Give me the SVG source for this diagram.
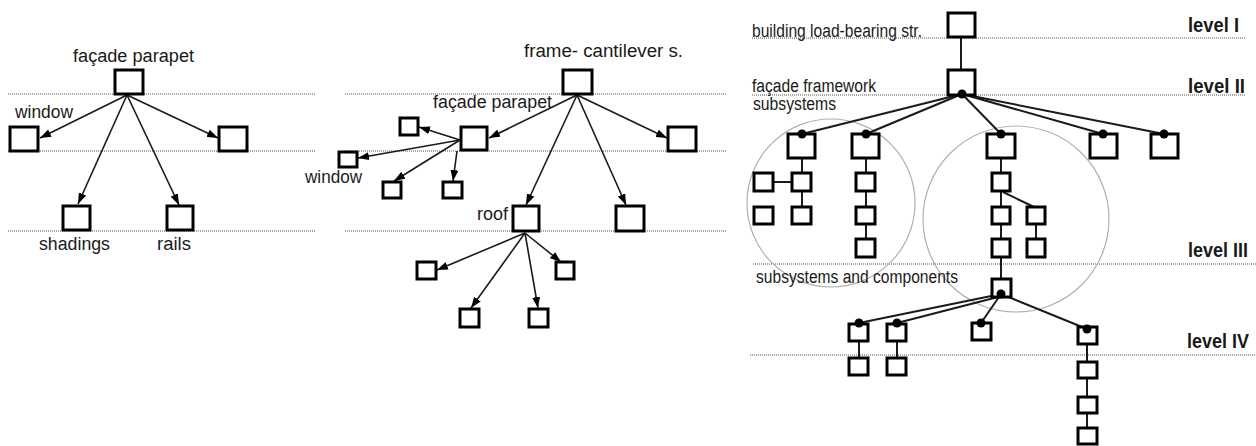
<svg xmlns="http://www.w3.org/2000/svg" width="1256" height="446" viewBox="0 0 1256 446">
<defs>
<style>
.bg{fill:#fff}
.bx{fill:#fff;stroke:#000;stroke-width:3}
.lv{stroke:#8a8a8a;stroke-width:1.6;stroke-dasharray:1 1;fill:none}
.ar{stroke:#1a1a1a;stroke-width:1.6;fill:none;marker-end:url(#ah)}
.ln{stroke:#1a1a1a;stroke-width:2;fill:none}
.dot{fill:#000}
.cr{fill:none;stroke:#b0b0b0;stroke-width:1.2}
.t{font-family:"Liberation Sans",Arial,sans-serif;font-size:18px;fill:#1a1a1a}
.tr{font-family:"Liberation Sans",Arial,sans-serif;font-size:18px;fill:#1a1a1a}
.lvl{font-family:"Liberation Sans",Arial,sans-serif;font-size:20px;font-weight:bold;fill:#1a1a1a}
</style>
<marker id="ah" markerUnits="userSpaceOnUse" markerWidth="11" markerHeight="8" refX="11" refY="4" orient="auto">
<path d="M0,0 L11,4 L0,8 z" fill="#000"/>
</marker>
</defs>
<rect class="bg" x="0" y="0" width="1256" height="446"/>

<g id="level-lines">
<line class="lv" x1="8" y1="94" x2="315" y2="94"/>
<line class="lv" x1="8" y1="151" x2="315" y2="151"/>
<line class="lv" x1="8" y1="231" x2="315" y2="231"/>
<line class="lv" x1="345" y1="94" x2="727" y2="94"/>
<line class="lv" x1="345" y1="151" x2="727" y2="151"/>
<line class="lv" x1="345" y1="231" x2="727" y2="231"/>
<line class="lv" x1="752" y1="38" x2="1245" y2="38"/>
<line class="lv" x1="752" y1="95" x2="1245" y2="95"/>
<line class="lv" x1="753" y1="264" x2="1256" y2="264"/>
<line class="lv" x1="750" y1="355" x2="1256" y2="355"/>
</g>

<g id="circles">
<circle class="cr" cx="831" cy="203" r="84"/>
<circle class="cr" cx="1016" cy="219" r="93"/>
</g>

<g id="connectors">
<!-- left panel -->
<line class="ar" x1="127" y1="95" x2="40" y2="138"/>
<line class="ar" x1="127" y1="95" x2="218" y2="138"/>
<line class="ar" x1="127" y1="95" x2="78" y2="204"/>
<line class="ar" x1="127" y1="95" x2="179" y2="205"/>
<!-- middle panel -->
<line class="ar" x1="577" y1="95" x2="489" y2="138"/>
<line class="ar" x1="577" y1="95" x2="667" y2="138"/>
<line class="ar" x1="577" y1="95" x2="526" y2="205"/>
<line class="ar" x1="577" y1="95" x2="626" y2="205"/>
<line class="ar" x1="460" y1="140" x2="419" y2="127"/>
<line class="ar" x1="460" y1="140" x2="358" y2="158"/>
<line class="ar" x1="460" y1="140" x2="394" y2="181"/>
<line class="ar" x1="457" y1="151" x2="453" y2="181"/>
<line class="ar" x1="525" y1="233" x2="437" y2="270"/>
<line class="ar" x1="525" y1="233" x2="471" y2="308"/>
<line class="ar" x1="525" y1="233" x2="538" y2="308"/>
<line class="ar" x1="525" y1="233" x2="561" y2="262"/>
<!-- right panel -->
<line class="ln" x1="961" y1="37" x2="961" y2="70"/>
<line class="ln" x1="962" y1="94" x2="802" y2="134"/>
<line class="ln" x1="962" y1="94" x2="866" y2="134"/>
<line class="ln" x1="962" y1="94" x2="1001" y2="134"/>
<line class="ln" x1="962" y1="94" x2="1103" y2="134"/>
<line class="ln" x1="962" y1="94" x2="1164" y2="134"/>
<line class="ln" x1="802" y1="158" x2="802" y2="207"/>
<line class="ln" x1="773" y1="182" x2="792" y2="182"/>
<line class="ln" x1="866" y1="158" x2="866" y2="239"/>
<line class="ln" x1="1001" y1="158" x2="1001" y2="279"/>
<line class="ln" x1="1003" y1="192" x2="1034" y2="207"/>
<line class="ln" x1="1036" y1="224" x2="1036" y2="239"/>
<line class="ln" x1="1001" y1="294" x2="859" y2="323"/>
<line class="ln" x1="998" y1="297" x2="897" y2="323"/>
<line class="ln" x1="1001" y1="294" x2="981" y2="323"/>
<line class="ln" x1="1001" y1="294" x2="1087" y2="329"/>
<line class="ln" x1="859" y1="341" x2="859" y2="358"/>
<line class="ln" x1="897" y1="341" x2="897" y2="358"/>
<line class="ln" x1="1087" y1="344" x2="1087" y2="428"/>
</g>

<!-- left panel nodes -->
<g id="L-facade-parapet"><rect class="bx" x="115" y="70" width="28" height="24"/><text class="t" x="73" y="62" textLength="121" lengthAdjust="spacingAndGlyphs">façade parapet</text></g>
<g id="L-window"><rect class="bx" x="10" y="127" width="28" height="24"/><text class="t" x="15" y="118" textLength="58" lengthAdjust="spacingAndGlyphs">window</text></g>
<g id="L-right"><rect class="bx" x="219" y="127" width="28" height="24"/></g>
<g id="L-shadings"><rect class="bx" x="63" y="206" width="27" height="24"/><text class="t" x="39" y="250" textLength="71" lengthAdjust="spacingAndGlyphs">shadings</text></g>
<g id="L-rails"><rect class="bx" x="167" y="206" width="26" height="24"/><text class="t" x="157" y="250" textLength="34" lengthAdjust="spacingAndGlyphs">rails</text></g>

<!-- middle panel nodes -->
<g id="M-frame"><rect class="bx" x="563" y="70" width="29" height="24"/><text class="t" x="524" y="57" textLength="159" lengthAdjust="spacingAndGlyphs">frame- cantilever s.</text></g>
<g id="M-facade-parapet"><rect class="bx" x="461" y="127" width="26" height="23"/><text class="t" x="433" y="108" textLength="119" lengthAdjust="spacingAndGlyphs">façade parapet</text></g>
<g id="M-right"><rect class="bx" x="668" y="127" width="28" height="24"/></g>
<g id="M-fp-a"><rect class="bx" x="400" y="118" width="18" height="17"/></g>
<g id="M-window"><rect class="bx" x="339" y="152" width="18" height="15"/><text class="t" x="305" y="183" textLength="57" lengthAdjust="spacingAndGlyphs">window</text></g>
<g id="M-fp-c"><rect class="bx" x="383" y="182" width="18" height="16"/></g>
<g id="M-fp-d"><rect class="bx" x="443" y="182" width="19" height="16"/></g>
<g id="M-roof"><rect class="bx" x="513" y="206" width="26" height="25"/><text class="t" x="477" y="220" textLength="31" lengthAdjust="spacingAndGlyphs">roof</text></g>
<g id="M-right2"><rect class="bx" x="616" y="206" width="28" height="25"/></g>
<g id="M-roof-a"><rect class="bx" x="417" y="262" width="19" height="17"/></g>
<g id="M-roof-b"><rect class="bx" x="460" y="309" width="19" height="18"/></g>
<g id="M-roof-c"><rect class="bx" x="529" y="309" width="19" height="18"/></g>
<g id="M-roof-d"><rect class="bx" x="556" y="262" width="18" height="17"/></g>

<!-- right panel nodes -->
<g id="R-labels">
<text class="tr" x="752" y="37" textLength="170" lengthAdjust="spacingAndGlyphs">building load-bearing str.</text>
<text class="tr" x="752" y="92" textLength="124" lengthAdjust="spacingAndGlyphs">façade framework</text>
<text class="tr" x="753" y="110" textLength="83" lengthAdjust="spacingAndGlyphs">subsystems</text>
<text class="tr" x="756" y="283" textLength="202" lengthAdjust="spacingAndGlyphs">subsystems and components</text>
<text class="lvl" x="1188" y="32" textLength="51" lengthAdjust="spacingAndGlyphs">level I</text>
<text class="lvl" x="1188" y="93" textLength="57" lengthAdjust="spacingAndGlyphs">level II</text>
<text class="lvl" x="1188" y="257" textLength="60" lengthAdjust="spacingAndGlyphs">level III</text>
<text class="lvl" x="1187" y="348" font-size="19.5" textLength="62" lengthAdjust="spacingAndGlyphs">level IV</text>
</g>
<g id="R-building"><rect class="bx" x="948" y="13" width="27" height="24"/></g>
<g id="R-framework"><rect class="bx" x="948" y="70" width="27" height="25"/><circle class="dot" cx="962" cy="94" r="4.5"/></g>
<g id="R-s1"><rect class="bx" x="788" y="134" width="27" height="24"/><circle class="dot" cx="802" cy="134" r="4.5"/></g>
<g id="R-s2"><rect class="bx" x="852" y="134" width="27" height="24"/><circle class="dot" cx="866" cy="134" r="4.5"/></g>
<g id="R-s3"><rect class="bx" x="987" y="134" width="28" height="24"/><circle class="dot" cx="1001" cy="134" r="4.5"/></g>
<g id="R-s4"><rect class="bx" x="1090" y="134" width="27" height="24"/><circle class="dot" cx="1103" cy="134" r="4.5"/></g>
<g id="R-s5"><rect class="bx" x="1151" y="134" width="27" height="24"/><circle class="dot" cx="1164" cy="134" r="4.5"/></g>
<g id="R-s1-a"><rect class="bx" x="792" y="173" width="19" height="18"/></g>
<g id="R-s1-b"><rect class="bx" x="754" y="173" width="19" height="18"/></g>
<g id="R-s1-c"><rect class="bx" x="792" y="207" width="19" height="17"/></g>
<g id="R-s1-d"><rect class="bx" x="754" y="207" width="19" height="17"/></g>
<g id="R-s2-a"><rect class="bx" x="856" y="173" width="19" height="18"/></g>
<g id="R-s2-b"><rect class="bx" x="856" y="207" width="19" height="17"/></g>
<g id="R-s2-c"><rect class="bx" x="856" y="239" width="19" height="18"/></g>
<g id="R-s3-a"><rect class="bx" x="992" y="173" width="18" height="18"/></g>
<g id="R-s3-b"><rect class="bx" x="992" y="207" width="18" height="17"/></g>
<g id="R-s3-c"><rect class="bx" x="992" y="239" width="18" height="18"/></g>
<g id="R-s3-d"><rect class="bx" x="1027" y="207" width="18" height="17"/></g>
<g id="R-s3-e"><rect class="bx" x="1027" y="239" width="18" height="18"/></g>
<g id="R-sc"><rect class="bx" x="992" y="279" width="19" height="18"/><circle class="dot" cx="1001" cy="294" r="4.5"/></g>
<g id="R-c1"><rect class="bx" x="849" y="324" width="19" height="17"/><circle class="dot" cx="859" cy="323" r="4.5"/></g>
<g id="R-c2"><rect class="bx" x="887" y="324" width="19" height="17"/><circle class="dot" cx="897" cy="323" r="4.5"/></g>
<g id="R-c3"><rect class="bx" x="972" y="323" width="19" height="17"/><circle class="dot" cx="981" cy="323" r="4.5"/></g>
<g id="R-c4"><rect class="bx" x="1078" y="327" width="19" height="17"/><circle class="dot" cx="1087" cy="329" r="4.5"/></g>
<g id="R-c1-a"><rect class="bx" x="849" y="358" width="19" height="17"/></g>
<g id="R-c2-a"><rect class="bx" x="887" y="358" width="19" height="17"/></g>
<g id="R-c4-a"><rect class="bx" x="1078" y="362" width="19" height="16"/></g>
<g id="R-c4-b"><rect class="bx" x="1078" y="397" width="19" height="16"/></g>
<g id="R-c4-c"><rect class="bx" x="1078" y="428" width="19" height="16"/></g>
</svg>
